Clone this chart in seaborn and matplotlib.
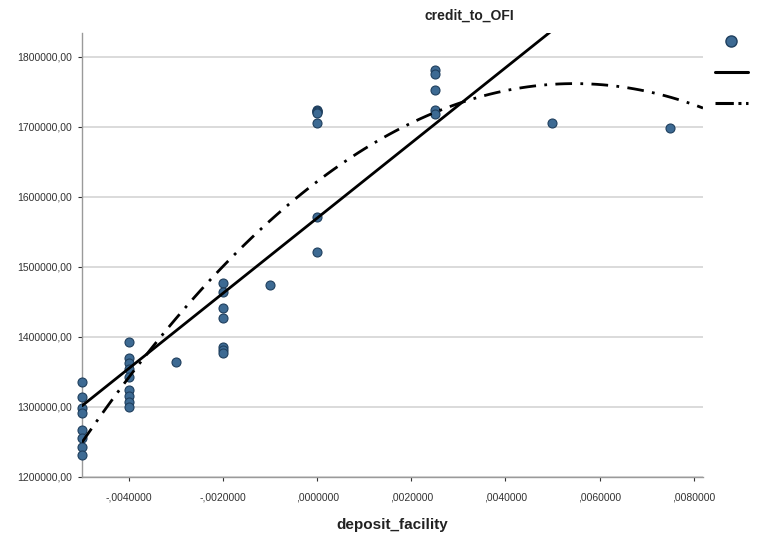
import numpy as np
import pandas as pd
import seaborn as sns
import matplotlib
matplotlib.use("Agg")
import matplotlib.pyplot as plt
from matplotlib.lines import Line2D
from matplotlib.ticker import FuncFormatter, FixedLocator

# deposit facility rate and outstanding credit to other financial institutions
deposit_facility = (
    [-0.005] * 8
    + [-0.004] * 9
    + [-0.003]
    + [-0.002] * 7
    + [-0.001]
    + [0.0] * 8
    + [0.0025] * 5
    + [0.005]
    + [0.0075]
)
credit_to_OFI = (
    [1336000, 1314000, 1299000, 1291000, 1267000, 1256000, 1243000, 1231000]
    + [1393000, 1370000, 1363000, 1354000, 1343000, 1324000, 1316000, 1307000, 1300000]
    + [1364000]
    + [1477000, 1464000, 1441000, 1427000, 1386000, 1381000, 1377000]
    + [1474000]
    + [1724000, 1723000, 1722000, 1721000, 1720000, 1706000, 1571000, 1521000]
    + [1781000, 1775000, 1753000, 1724000, 1718000]
    + [1706000]
    + [1698000]
)
x_ticks = [-0.004, -0.002, 0.0, 0.002, 0.004, 0.006, 0.008]
y_ticks = [1200000, 1300000, 1400000, 1500000, 1600000, 1700000, 1800000]

df = pd.DataFrame({"deposit_facility": deposit_facility, "credit_to_OFI": credit_to_OFI})

sns.set_theme(style="white")
plt.rcParams["font.family"] = ["Liberation Sans", "DejaVu Sans"]

fig = plt.figure(figsize=(7.64, 5.37), dpi=100)
ax = fig.add_axes([82 / 764, 1 - 477 / 537, (703 - 82) / 764, (477 - 33) / 537])
ax.set_xlim(-0.005, 0.0082)
ax.set_ylim(1200000, 1834000)

point_fill = "#3d6a93"
point_edge = "#1f3f5e"

sns.scatterplot(data=df, x="deposit_facility", y="credit_to_OFI", ax=ax,
                color=point_fill, edgecolor=point_edge, linewidth=0.8, s=42,
                zorder=3, clip_on=False, legend=False)
# linear fit over the observed range
sns.regplot(data=df, x="deposit_facility", y="credit_to_OFI", ax=ax, scatter=False,
            ci=None, order=1, truncate=True, color="black",
            line_kws=dict(linewidth=2.0, zorder=4))
# quadratic fit across the whole axis
sns.regplot(data=df, x="deposit_facility", y="credit_to_OFI", ax=ax, scatter=False,
            ci=None, order=2, truncate=False, color="black",
            line_kws=dict(linewidth=2.0, linestyle=(0, (6, 3, 1, 3)), zorder=4))
ax.set_xlim(-0.005, 0.0082)
ax.set_ylim(1200000, 1834000)

ax.yaxis.set_major_locator(FixedLocator(y_ticks))
ax.xaxis.set_major_locator(FixedLocator(x_ticks))
ax.yaxis.set_major_formatter(FuncFormatter(lambda v, p: f"{v:.2f}".replace(".", ",")))


def spss_x(v, p):
    s = f"{v:.7f}"
    neg = s.startswith("-")
    s = s.lstrip("-")
    if s.startswith("0."):
        s = s[1:]
    s = s.replace(".", ",")
    return ("-" if neg else "") + s


ax.xaxis.set_major_formatter(FuncFormatter(spss_x))
ax.tick_params(axis="both", labelsize=7.5, colors="#333333", length=3, width=0.8,
               direction="out", left=True, bottom=True, pad=4)
ax.tick_params(axis="x", pad=8)
ax.grid(axis="y", color="#d4d4d4", linewidth=1.2)
ax.grid(axis="x", visible=False)
for side in ("top", "right"):
    ax.spines[side].set_visible(False)
for side in ("left", "bottom"):
    ax.spines[side].set_color("#9a9a9a")
    ax.spines[side].set_linewidth(1.0)

ax.set_ylabel("")
ax.set_xlabel("deposit_facility", fontsize=11, fontweight="bold", color="#222222", labelpad=11)
fig.text(469 / 764, 1 - 16 / 537, "credit_to_OFI", ha="center", va="center",
         fontsize=10, fontweight="bold", color="#222222")

handles = [
    Line2D([], [], marker="o", linestyle="none", markersize=8,
           markerfacecolor=point_fill, markeredgecolor=point_edge),
    Line2D([], [], color="black", linewidth=2.2),
    Line2D([], [], color="black", linewidth=2.2, linestyle=(0, (6, 1.5, 1, 1.5))),
]
fig.legend(handles, ["", "", ""], loc="upper left", bbox_to_anchor=(707 / 764, 1 - 28 / 537),
           frameon=False, handlelength=2.2, labelspacing=1.1, borderpad=0, handletextpad=0)

fig.savefig("out.png", dpi=100)
